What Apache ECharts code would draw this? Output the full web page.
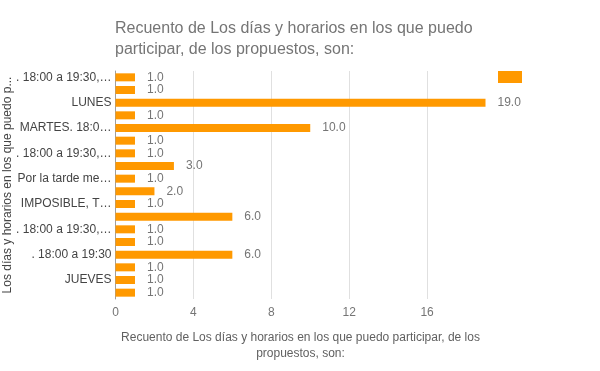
<!DOCTYPE html>
<html>
<head>
<meta charset="utf-8">
<script src="https://cdn.jsdelivr.net/npm/echarts@6/dist/echarts.min.js"></script>
<style>html,body{margin:0;padding:0;background:#fff}#c{width:600px;height:371px}</style>
</head>
<body>
<div id="c"></div>
<script>
var titleText = 'Recuento de Los días y horarios en los que puedo\nparticipar, de los propuestos, son:';
var xAxisName = 'Recuento de Los días y horarios en los que puedo participar, de los\npropuestos, son:';
var yAxisName = 'Los días y horarios en los que puedo participar, de los propuestos, son:';
var seriesName = 'Recuento de Los días y horarios en los que puedo participar, de los propuestos, son:';
var categories = [
  '. 18:00 a 19:30, MARTES Y JUEVES',
  'MIÉRCOLES',
  'LUNES',
  'VIERNES',
  'MARTES. 18:00 a 19:30',
  'LUNES Y MIÉRCOLES',
  '. 18:00 a 19:30, LUNES',
  'MARTES',
  'Por la tarde me viene mejor',
  'LUNES. 18:00 a 19:30',
  'IMPOSIBLE, TRABAJO',
  'MIÉRCOLES. 18:00 a 19:30',
  '. 18:00 a 19:30, MIÉRCOLES',
  'JUEVES. 18:00 a 19:30',
  '. 18:00 a 19:30',
  'LUNES Y JUEVES',
  'JUEVES',
  'VIERNES. 18:00 a 19:30'
];
var values = [1, 1, 19, 1, 10, 1, 1, 3, 1, 2, 1, 6, 1, 1, 6, 1, 1, 1];
var xTicks = [0, 4, 8, 12, 16];

var font = '"Liberation Sans", Arial, sans-serif';
var chart = echarts.init(document.getElementById('c'), null, {renderer: 'canvas'});
chart.setOption({
  animation: false,
  textStyle: {fontFamily: font},
  title: {
    text: titleText,
    left: 110,
    top: 13,
    textStyle: {fontFamily: font, fontSize: 16, fontWeight: 'normal', color: '#757575', lineHeight: 21}
  },
  legend: {
    show: true,
    left: 498,
    top: 71,
    padding: 0,
    itemWidth: 24,
    itemHeight: 12,
    itemGap: 0,
    formatter: function () { return ''; },
    data: [{name: seriesName, icon: 'rect'}]
  },
  grid: {left: 115.5, right: 114.5, top: 71, height: 228, containLabel: false, outerBoundsMode: 'none'},
  xAxis: {
    type: 'value',
    min: 0,
    max: 19,
    interval: 4,
    name: xAxisName,
    nameLocation: 'middle',
    nameGap: 31,
    nameMoveOverlap: false,
    nameTextStyle: {fontFamily: font, fontSize: 12, color: '#616161', lineHeight: 16},
    axisLine: {show: false},
    axisTick: {show: false},
    splitLine: {show: true, showMaxLine: false, lineStyle: {color: '#e0e0e0', width: 1}},
    axisLabel: {
      fontFamily: font, fontSize: 12, color: '#757575', margin: 8, showMaxLabel: false,
      formatter: function (v) { return xTicks.indexOf(v) >= 0 ? String(v) : ''; }
    }
  },
  yAxis: {
    type: 'category',
    inverse: true,
    data: categories,
    name: yAxisName,
    nameLocation: 'middle',
    nameGap: 102,
    nameMoveOverlap: false,
    nameTruncate: {maxWidth: 224, ellipsis: '...'},
    nameTextStyle: {fontFamily: font, fontSize: 12, color: '#444'},
    axisLine: {show: true, lineStyle: {color: '#9e9e9e', width: 1}},
    axisTick: {show: false},
    splitLine: {show: false},
    axisLabel: {
      interval: 1,
      fontFamily: font, fontSize: 12, color: '#444', margin: 4,
      width: 97, overflow: 'truncate', ellipsis: '…'
    }
  },
  series: [{
    name: seriesName,
    type: 'bar',
    data: values,
    barWidth: 8,
    itemStyle: {color: '#ff9900'},
    label: {
      show: true,
      position: 'right',
      distance: 12,
      fontFamily: font,
      fontSize: 12,
      color: '#757575',
      formatter: function (p) { return p.value.toFixed(1); }
    }
  }]
});
</script>
</body>
</html>
